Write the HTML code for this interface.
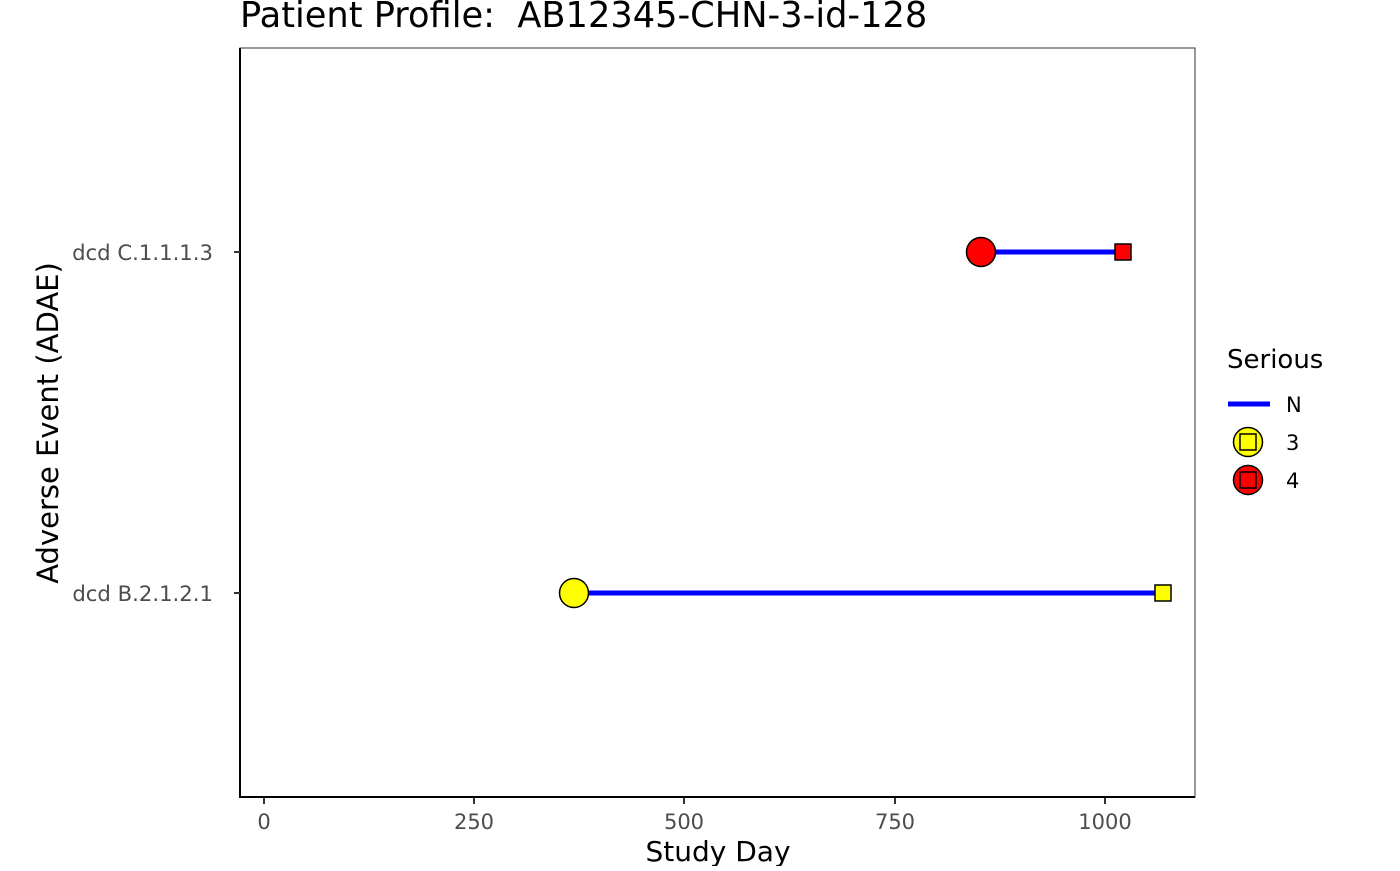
<!DOCTYPE html>
<html><head><style>
body{margin:0;background:#fff;}
svg text{font-family:"DejaVu Sans","Liberation Sans",sans-serif;white-space:pre;}
</style></head><body>
<svg width="1400" height="866" xmlns="http://www.w3.org/2000/svg" xml:space="preserve">
<rect width="1400" height="866" fill="#fff"/>
<text x="240" y="27" font-size="35.2" fill="#000">Patient Profile:  AB12345-CHN-3-id-128</text>
<rect x="240" y="48" width="955" height="749" fill="none" stroke="#333" stroke-width="1"/>
<line x1="240" y1="48" x2="240" y2="798" stroke="#000" stroke-width="2"/>
<line x1="239" y1="797" x2="1195" y2="797" stroke="#000" stroke-width="2"/>
<g stroke="#333" stroke-width="2">
<line x1="264" y1="798" x2="264" y2="804"/><line x1="474" y1="798" x2="474" y2="804"/>
<line x1="684" y1="798" x2="684" y2="804"/><line x1="895" y1="798" x2="895" y2="804"/>
<line x1="1105" y1="798" x2="1105" y2="804"/>
<line x1="234" y1="252" x2="240" y2="252"/><line x1="234" y1="593" x2="240" y2="593"/>
</g>
<g font-size="21" fill="#4d4d4d" text-anchor="middle">
<text x="264" y="829">0</text><text x="474" y="829">250</text><text x="684" y="829">500</text>
<text x="895" y="829">750</text><text x="1105" y="829">1000</text>
</g>
<g font-size="21.2" fill="#4d4d4d" text-anchor="end">
<text x="213" y="260">dcd C.1.1.1.3</text><text x="213" y="601">dcd B.2.1.2.1</text>
</g>
<text x="718" y="861" font-size="28" text-anchor="middle">Study Day</text>
<text transform="translate(58,423) rotate(-90)" font-size="29" text-anchor="middle">Adverse Event (ADAE)</text>
<line x1="574" y1="593" x2="1163" y2="593" stroke="#0000ff" stroke-width="5"/>
<line x1="981" y1="252" x2="1123" y2="252" stroke="#0000ff" stroke-width="5"/>
<circle cx="574" cy="593" r="14.5" fill="#ffff00" stroke="#000" stroke-width="1.5"/>
<rect x="1155" y="585" width="16" height="16" fill="#ffff00" stroke="#000" stroke-width="1.5"/>
<circle cx="981" cy="252" r="14.5" fill="#ff0000" stroke="#000" stroke-width="1.5"/>
<rect x="1115" y="244" width="16" height="16" fill="#ff0000" stroke="#000" stroke-width="1.5"/>
<text x="1227" y="368" font-size="26">Serious</text>
<line x1="1228" y1="404" x2="1270" y2="404" stroke="#0000ff" stroke-width="5"/>
<text x="1286" y="412" font-size="21">N</text>
<circle cx="1248" cy="442" r="14.5" fill="#ffff00" stroke="#000" stroke-width="1.5"/>
<rect x="1240" y="434" width="16" height="16" fill="#ffff00" stroke="#000" stroke-width="1.5"/>
<text x="1286" y="450" font-size="21">3</text>
<circle cx="1248" cy="480" r="14.5" fill="#ff0000" stroke="#000" stroke-width="1.5"/>
<rect x="1240" y="472" width="16" height="16" fill="#ff0000" stroke="#000" stroke-width="1.5"/>
<text x="1286" y="488" font-size="21">4</text>
</svg>
</body></html>
